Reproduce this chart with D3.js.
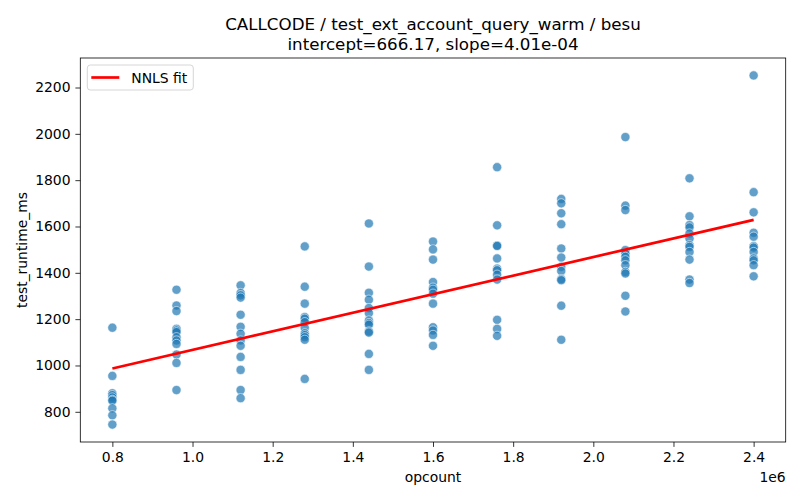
<!DOCTYPE html>
<html>
<head>
<meta charset="utf-8">
<script src="https://cdn.jsdelivr.net/npm/d3@7"></script>
<style>
  body { margin: 0; background: #fff; }
  svg text { font-family: "DejaVu Sans", sans-serif; fill: #000; }
  .axis path, .axis line { stroke: #000; stroke-width: 0.8; }
  .axis text { font-size: 13.9px; }
</style>
</head>
<body>
<div id="graf"></div>
<script>
// opcount (x) for each column of runs
const opcounts = [800000, 960000, 1120000, 1280000, 1440000, 1600000, 1760000, 1920000, 2080000, 2240000, 2400000]

// runtime (ms) per column
const runtimes = [
  [1163, 955, 880, 872, 862, 852, 848, 815, 785, 745],
  [1327, 1259, 1235, 1158, 1151, 1144, 1122, 1108, 1093, 1047, 1011, 894],
  [1346, 1313, 1303, 1293, 1219, 1167, 1137, 1108, 1085, 1037, 981, 894, 859],
  [1514, 1340, 1267, 1209, 1202, 1187, 1163, 1139, 1131, 1122, 1111, 942],
  [1613, 1427, 1314, 1284, 1248, 1226, 1194, 1183, 1176, 1147, 1142, 1050, 981],
  [1535, 1501, 1457, 1360, 1336, 1327, 1310, 1267, 1165, 1151, 1132, 1085],
  [1856, 1605, 1518, 1516, 1462, 1418, 1411, 1392, 1371, 1197, 1158, 1128],
  [1719, 1700, 1657, 1610, 1505, 1466, 1426, 1408, 1373, 1368, 1258, 1111],
  [1986, 1690, 1671, 1498, 1483, 1469, 1454, 1433, 1404, 1397, 1301, 1233],
  [1808, 1644, 1606, 1596, 1570, 1548, 1519, 1512, 1490, 1457, 1371, 1356],
  [2252, 1748, 1661, 1573, 1556, 1515, 1509, 1490, 1462, 1454, 1433, 1385]
]

// ajuste NNLS
const intercept = 666.17
const slope = 4.01e-4

const titulo = ["CALLCODE / test_ext_account_query_warm / besu", "intercept=666.17, slope=4.01e-04"]
const xTicks = [0.8, 1.0, 1.2, 1.4, 1.6, 1.8, 2.0, 2.2, 2.4]
const yTicks = [800, 1000, 1200, 1400, 1600, 1800, 2000, 2200]

// aplanar los puntos
let puntos = []
opcounts.forEach((x, i) => {
  runtimes[i].forEach(v => puntos.push({ x: x, y: v }))
})

const anchoTotal = 800
const altoTotal = 500
const margins = { top: 58, right: 14.3, bottom: 58, left: 80.3 }
const ancho = anchoTotal - margins.left - margins.right
const alto = altoTotal - margins.top - margins.bottom

const svg = d3.select("#graf")
  .append("svg")
  .attr("width", anchoTotal)
  .attr("height", altoTotal)

const g = svg.append("g")
  .attr("transform", `translate(${margins.left}, ${margins.top})`)

// Escaladores (margen de 5% como matplotlib)
const xExt = d3.extent(puntos, d => d.x)
const yExt = d3.extent(puntos, d => d.y)
const xPad = (xExt[1] - xExt[0]) * 0.05
const yPad = (yExt[1] - yExt[0]) * 0.05

const x = d3.scaleLinear()
  .domain([xExt[0] - xPad, xExt[1] + xPad])
  .range([0, ancho])

const y = d3.scaleLinear()
  .domain([yExt[0] - yPad, yExt[1] + yPad])
  .range([alto, 0])

// Ejes
const xAxis = d3.axisBottom(x)
  .tickValues(xTicks.map(t => t * 1e6))
  .tickFormat(d => (d / 1e6).toFixed(1))
  .tickSize(4.9)
  .tickPadding(4.9)
  .tickSizeOuter(0)

const yAxis = d3.axisLeft(y)
  .tickValues(yTicks)
  .tickFormat(d3.format("d"))
  .tickSize(4.9)
  .tickPadding(4.9)
  .tickSizeOuter(0)

g.append("g")
  .classed("axis", true)
  .attr("transform", `translate(0, ${alto})`)
  .call(xAxis)
  .call(s => s.select(".domain").remove())

g.append("g")
  .classed("axis", true)
  .call(yAxis)
  .call(s => s.select(".domain").remove())

// Puntos
g.selectAll("circle")
  .data(puntos)
  .enter()
  .append("circle")
  .attr("cx", d => x(d.x))
  .attr("cy", d => y(d.y))
  .attr("r", 4.6)
  .attr("fill", "#1f77b4")
  .attr("fill-opacity", 0.7)
  .attr("stroke", "#fff")
  .attr("stroke-opacity", 0.7)
  .attr("stroke-width", 0.8)

// Linea del ajuste
const xFit = [opcounts[0], opcounts[opcounts.length - 1]]
g.append("path")
  .datum(xFit)
  .attr("d", d3.line().x(d => x(d)).y(d => y(intercept + slope * d)))
  .attr("fill", "none")
  .attr("stroke", "red")
  .attr("stroke-width", 2.7)

// Marco
g.append("rect")
  .attr("width", ancho)
  .attr("height", alto)
  .attr("fill", "none")
  .attr("stroke", "#000")
  .attr("stroke-width", 0.8)

// Titulos
svg.append("text")
  .attr("x", margins.left + ancho / 2)
  .attr("y", 30)
  .attr("text-anchor", "middle")
  .style("font-size", "16.7px")
  .text(titulo[0])

svg.append("text")
  .attr("x", margins.left + ancho / 2)
  .attr("y", 50)
  .attr("text-anchor", "middle")
  .style("font-size", "16.7px")
  .text(titulo[1])

svg.append("text")
  .attr("x", margins.left + ancho / 2)
  .attr("y", 482)
  .attr("text-anchor", "middle")
  .style("font-size", "13.9px")
  .text("opcount")

svg.append("text")
  .attr("x", margins.left + ancho)
  .attr("y", 482)
  .attr("text-anchor", "end")
  .style("font-size", "13.9px")
  .text("1e6")

svg.append("text")
  .attr("transform", `translate(27, ${margins.top + alto / 2}) rotate(-90)`)
  .attr("text-anchor", "middle")
  .style("font-size", "13.9px")
  .text("test_runtime_ms")

// Leyenda
const leg = g.append("g").attr("transform", "translate(7, 7)")
leg.append("rect")
  .attr("width", 106)
  .attr("height", 25)
  .attr("rx", 3)
  .attr("fill", "#fff")
  .attr("fill-opacity", 0.8)
  .attr("stroke", "#ccc")
  .attr("stroke-width", 0.8)
leg.append("line")
  .attr("x1", 4).attr("x2", 32)
  .attr("y1", 12.5).attr("y2", 12.5)
  .attr("stroke", "red")
  .attr("stroke-width", 2.7)
leg.append("text")
  .attr("x", 44)
  .attr("y", 17.5)
  .style("font-size", "13.9px")
  .text("NNLS fit")
</script>
</body>
</html>
